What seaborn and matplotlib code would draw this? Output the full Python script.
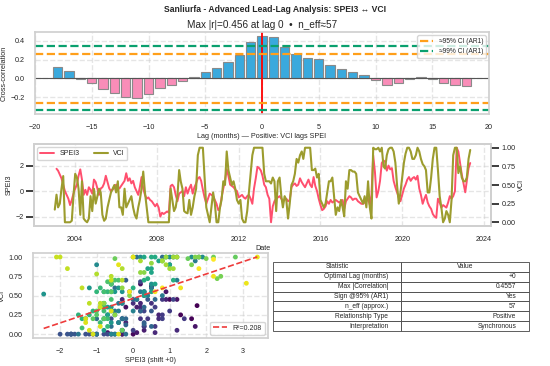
import numpy as np
import pandas as pd
import matplotlib
matplotlib.use("Agg")
import matplotlib.pyplot as plt
import matplotlib.dates as mdates
import seaborn as sns

sns.set_theme(style="whitegrid")
plt.rcParams["font.family"] = ["Liberation Sans", "DejaVu Sans"]

nan = np.nan

# Cross-correlation by lag
lags = list(range(-18, 19))
xcorr = [0.119, 0.083, -0.005, -0.054, -0.112, -0.155, -0.200, -0.205, -0.162,
         -0.108, -0.076, -0.032, 0.014, 0.072, 0.112, 0.177, 0.249, 0.386,
         0.456, 0.447, 0.339, 0.263, 0.213, 0.205, 0.148, 0.101, 0.068, 0.036,
         -0.018, -0.068, -0.054, -0.011, 0.011, -0.004, -0.054, -0.068, -0.083]
ci95 = 0.26
ci99 = 0.341

# Monthly series, Jan 2003 - May 2023 (one year per line)
spei3 = [
    nan, 1.75, 1.6, 1.3, 1.0, 0.5, 0.0, -0.3, -0.6, -1.1, -0.7, -0.2,
    0.2, 0.5, 1.2, 1.7, 0.9, -0.3, 0.1, -0.3, 0.3, 0.1, -0.2, 0.9,
    0.7, 0.2, -0.3, 0.2, 0.3, 0.6, 1.2, 0.7, 0.2, 0.0, 0.1, 0.3,
    0.5, 0.3, 0.2, 0.4, 0.6, 0.8, 1.4, 0.8, 1.0, 0.6, 0.8, 0.3,
    0.0, -0.3, 0.3, 1.1, 0.2, -0.3, -0.6, -0.5, -0.7, -0.8, -1.0, -1.2,
    -1.0, -1.3, -2.0, -1.7, -1.8, -1.7, -1.6, -1.7, 0.4, 0.5, 0.3, -0.3,
    -0.8, -0.2, -0.1, 0.0, -0.4, 0.3, -0.2, 0.2, 0.5, -0.2, 0.3, 0.6,
    1.0, 1.1, 0.8, 0.1, -0.5, -1.0, -0.6, -0.2, -0.3, -0.4, -0.7, -1.0,
    -1.5, -1.3, -0.5, 0.2, 0.8, 1.7, 1.2, 0.5, 0.4, 0.3, 0.1, 0.0,
    -0.5, -0.4, -0.3, -0.5, -0.6, -0.4, -0.3, -0.6, -1.0, 0.2, 1.0, 1.9,
    1.8, 1.6, 1.2, 0.5, 0.3, -0.3, -0.6, -2.45, -1.2, -0.8, -0.6, -0.5,
    -0.4, -0.6, -0.8, -0.7, -0.6, -0.8, -0.7, 0.3, 0.5, 0.6, 0.4, 0.5,
    1.0, 0.7, 0.5, 0.3, 0.6, 0.9, 0.5, 0.3, 1.1, 0.4, 0.0, -0.6,
    -1.1, -1.5, -1.4, -1.2, -0.8, -1.0, -0.7, -0.9, -0.8, -0.7, -0.8, -0.9,
    -0.8, -0.7, -1.4, -0.8, -0.6, -0.4, -0.5, -0.7, -0.6, -0.6, -0.8, -0.9,
    -1.0, -1.0, -0.9, -0.8, -0.6, -1.1, -0.3, 2.8, 1.5, -0.5, 0.0, 0.8,
    2.2, 2.4, 2.3, 1.6, 2.0, 1.7, 1.8, 0.8, 0.3, -0.1, -0.5, -0.8,
    -0.3, 0.2, 0.5, 0.9, 1.1, 0.8, 1.0, 1.1, 0.9, 1.2, 0.2, -0.3,
    -1.0, -0.6, -0.3, -0.9, -1.2, -1.4, -1.8, -2.0, -2.1, -0.6, -0.9, -1.3,
    -1.1, -1.2, -1.3, -0.9, -0.4, -0.6, -0.4, 0.0, 3.4, 3.1, 2.2, 1.3,
    0.6, -0.1, 0.8, 1.8, 2.2,
]
vci = [
    0.17, 0.37, 0.2, 0.25, 0.45, 0.62, 0.0, 0.0, 0.0, 0.0, 0.02, 0.35,
    0.65, 0.6, 0.45, 0.1, 0.55, 0.05, 0.02, 0.0, 0.05, 0.35, 0.15, 0.45,
    0.25, 0.35, 0.45, 0.4, 0.1, 0.02, 0.05, 0.2, 0.3, 0.4, 0.45, 0.5,
    0.4, 0.55, 0.2, 0.2, 0.1, 0.45, 0.2, 0.25, 0.3, 0.35, 0.2, 0.1,
    0.05, 0.2, 0.3, 0.45, 0.68, 0.4, 0.2, 0.0, 0.0, 0.0, 0.0, 0.0,
    0.0, 0.0, 0.0, 0.0, 0.0, 0.0, 0.0, 0.0, 0.45, 0.3, 0.15, 0.2,
    0.35, 0.7, 0.55, 0.45, 0.15, 0.13, 0.12, 0.3, 0.1, 0.2, 0.35, 0.45,
    0.9, 1.0, 1.0, 1.0, 0.6, 0.2, 0.1, 0.0, 0.2, 0.4, 0.25, 0.0,
    0.0, 0.2, 0.3, 0.55, 0.5, 0.95, 0.7, 0.6, 0.5, 0.55, 0.45, 0.3,
    0.25, 0.3, 0.05, 0.0, 0.0, 0.15, 0.4, 0.65, 0.9, 1.0, 1.0, 1.0,
    1.0, 1.0, 1.0, 0.65, 0.55, 0.55, 0.55, 0.52, 0.6, 0.55, 0.15, 0.55,
    0.6, 0.35, 0.2, 0.35, 0.3, 0.05, 0.25, 0.5, 0.55, 0.65, 0.85, 0.8,
    0.9, 0.95, 0.85, 1.0, 1.0, 1.0, 1.0, 0.7, 0.7, 0.72, 0.6, 0.65,
    0.3, 0.25, 0.2, 0.25, 0.4, 0.55, 0.55, 0.6, 0.35, 0.1, 0.2, 0.15,
    0.3, 0.2, 0.08, 0.55, 0.45, 0.7, 0.7, 0.68, 0.68, 0.65, 0.4, 0.35,
    0.3, 0.25, 0.35, 0.2, 0.55, 0.2, 0.05, 1.0, 0.98, 0.98, 1.0, 0.95,
    1.0, 0.75, 0.72, 0.9, 0.98, 1.0, 1.0, 0.95, 0.8, 0.5, 0.25, 0.4,
    0.6, 0.8, 0.92, 1.0, 1.0, 0.95, 0.85, 0.85, 0.9, 1.0, 0.95, 0.85,
    0.78, 0.75, 0.7, 0.4, 0.4, 0.6, 0.85, 1.0, 1.0, 0.7, 0.35, 0.2,
    0.0, 0.05, 0.15, 0.1, 0.0, 0.3, 0.9, 1.0, 1.0, 0.66, 0.75, 0.6,
    0.55, 0.55, 0.6, 0.85, 0.97,
]

stat_names = ["Optimal Lag (months)", "Max |Correlation|", "Sign @95% (AR1)",
              "n_eff (approx.)", "Relationship Type", "Interpretation"]
stat_values = ["+0", "0.4557", "Yes", "57", "Positive", "Synchronous"]

dates = pd.date_range("2003-01-01", periods=len(vci), freq="MS")
df = pd.DataFrame({"Date": dates, "SPEI3": spei3, "VCI": vci})

lag_df = pd.DataFrame({"lag": lags, "r": xcorr})
lag_df["sign"] = np.where(lag_df["r"] >= 0, "pos", "neg")

W, H = 550, 366
fig = plt.figure(figsize=(5.5, 3.66), dpi=100)

def box(l, t, r, b):
    return [l / W, 1 - b / H, (r - l) / W, (b - t) / H]

small = 5.2

# ---------------------------------------------------------
# A) cross-correlation bars
# ---------------------------------------------------------
ax1 = fig.add_axes(box(35, 32, 489, 114))
sns.barplot(data=lag_df, x="lag", y="r", hue="sign", native_scale=True,
            palette={"pos": "#3aa9dd", "neg": "#f98db8"}, edgecolor="#8a8a8a",
            linewidth=0.8, width=0.82, saturation=1, legend=False, ax=ax1)
ax1.axhline(0, color="#555555", lw=0.8)
ax1.axvline(0, color="red", lw=1.3)
ax1.axhline(ci95, color="#ff9f1a", ls="--", lw=1.6, label="≈95% CI (AR1)")
ax1.axhline(-ci95, color="#ff9f1a", ls="--", lw=1.6)
ax1.axhline(ci99, color="#0aa06e", ls="--", lw=1.6, label="≈99% CI (AR1)")
ax1.axhline(-ci99, color="#0aa06e", ls="--", lw=1.6)
ax1.set_xlim(-20, 20)
ax1.set_xticks(range(-20, 21, 5))
ax1.set_yticks([-0.2, 0.0, 0.2, 0.4])
ax1.set_xlabel("Lag (months) — Positive: VCI lags SPEI", fontsize=small, labelpad=1)
ax1.set_ylabel("Cross-correlation", fontsize=small, labelpad=2)
ax1.set_title("Max |r|=0.456 at lag 0  •  n_eff≈57", fontsize=7.2, pad=3)
ax1.legend(loc="upper right", fontsize=4.8, frameon=True)

# ---------------------------------------------------------
# B) time series
# ---------------------------------------------------------
ax2 = fig.add_axes(box(34, 144, 491, 226))
sns.lineplot(data=df, x="Date", y="SPEI3", color="#ff4f6e", lw=1.4,
             label="SPEI3", ax=ax2, legend=False)
ax2b = ax2.twinx()
sns.lineplot(data=df, x="Date", y="VCI", color="#9c9c2e", lw=1.5,
             label="VCI", ax=ax2b, legend=False)
ax2.xaxis.set_major_locator(mdates.YearLocator(4))
ax2.xaxis.set_major_formatter(mdates.DateFormatter("%Y"))
ax2.set_xlabel("Date", fontsize=small, labelpad=1)
ax2.set_ylabel("SPEI3", fontsize=small, labelpad=2)
ax2b.set_ylabel("VCI", fontsize=small, labelpad=2)
ax2b.set_yticks([0, 0.25, 0.5, 0.75, 1.0])
ax2b.grid(False)
h1, l1 = ax2.get_legend_handles_labels()
h2, l2 = ax2b.get_legend_handles_labels()
ax2.legend(h1 + h2, l1 + l2, loc="upper left", ncol=2, fontsize=5)

# ---------------------------------------------------------
# C) scatter at lag 0
# ---------------------------------------------------------
ax3 = fig.add_axes(box(33, 253, 268, 338))
sc = df.dropna().reset_index(drop=True)
ax3.scatter(sc["SPEI3"], sc["VCI"], c=sc.index, cmap="viridis", s=12,
            linewidths=0)
sns.regplot(data=sc, x="SPEI3", y="VCI", scatter=False, ci=None, ax=ax3,
            label="R²=0.208",
            line_kws={"color": "#ee3b3b", "ls": "--", "lw": 1.2})
ax3.set_xlabel("SPEI3 (shift +0)", fontsize=small, labelpad=1)
ax3.set_ylabel("VCI", fontsize=small, labelpad=2)
ax3.set_yticks([0, 0.25, 0.5, 0.75, 1.0])
ax3.legend(loc="lower right", fontsize=5)

# ---------------------------------------------------------
# D) summary table
# ---------------------------------------------------------
ax4 = fig.add_axes(box(273, 262, 529, 331))
ax4.axis("off")
tab = ax4.table(cellText=[[a, b] for a, b in zip(stat_names, stat_values)],
                colLabels=["Statistic", "Value"], bbox=[0, 0, 1, 1])
tab.auto_set_font_size(False)
tab.set_fontsize(4.8)
for cell in tab.get_celld().values():
    cell.set_edgecolor("#444444")
    cell.set_linewidth(0.6)

for ax in [ax1, ax2, ax2b, ax3]:
    ax.tick_params(labelsize=small, pad=1.5)
    for s in ax.spines.values():
        s.set_edgecolor("#d0d0d0")
for ax in [ax1, ax2, ax3]:
    ax.grid(True, ls="--", alpha=0.5)

fig.suptitle("Sanliurfa - Advanced Lead-Lag Analysis: SPEI3 ↔ VCI",
             fontsize=6.2, fontweight="bold", y=0.985)

fig.savefig("out.png", dpi=100)
